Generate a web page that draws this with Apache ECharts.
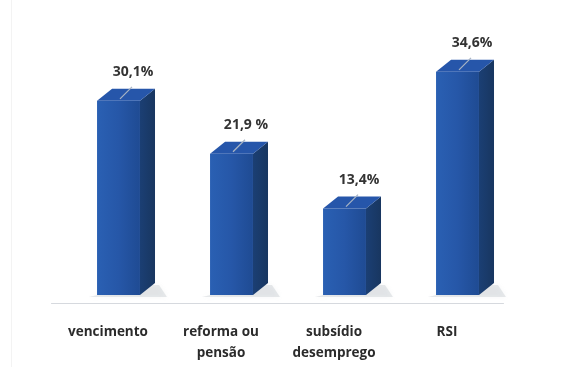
<!DOCTYPE html>
<html>
<head>
<meta charset="utf-8">
<style>
  html, body { margin: 0; padding: 0; background: #ffffff; }
  #chart { width: 573px; height: 367px; }
</style>
<script src="https://cdn.jsdelivr.net/npm/echarts@6/dist/echarts.min.js"></script>
</head>
<body>
<div id="chart"></div>
<script>
// Categories and their shares (%)
const categories = ['vencimento', 'reforma ou\npensão', 'subsídio\ndesemprego', 'RSI'];
const values = [30.1, 21.9, 13.4, 34.6];
const valueLabels = ['30,1%', '21,9 %', '13,4%', '34,6%'];

const chart = echarts.init(document.getElementById('chart'), null, { renderer: 'canvas' });

// Draws a 3D column: front face, top face, right side face, soft floor shadow,
// plus the value label with a short leader line onto the top face.
function renderColumn(params, api) {
  const i = api.value(0);
  const v = api.value(1);
  const top = api.coord([i, v]);
  const base = api.coord([i, 0]);
  const band = api.size([1, 0])[0];
  const floor = 8;               // floor depth: column bases sit behind the axis line
  const cx = top[0];
  const x0 = cx - band * 0.097;
  const w = band * 0.38;
  const dx = band * 0.133;
  const dy = 12;
  const yTop = top[1] - floor;
  const yBot = base[1] - floor;

  const frontFill = new echarts.graphic.LinearGradient(0, 0, 1, 0, [
    { offset: 0, color: '#2a60b3' },
    { offset: 0.5, color: '#2657a8' },
    { offset: 1, color: '#1f4b93' }
  ]);
  const sideFill = new echarts.graphic.LinearGradient(0, 0, 1, 0, [
    { offset: 0, color: '#1b3f74' },
    { offset: 1, color: '#183660' }
  ]);

  const children = [
    // floor shadow
    {
      type: 'polygon',
      shape: { points: [[x0 - 8, yBot + 2], [x0 + w + dx + 12, yBot + 2], [x0 + w + dx + 4, yBot - dy + 2], [x0 + w, yBot - dy + 2]] },
      style: { fill: 'rgba(150,158,168,0.22)', shadowBlur: 5, shadowColor: 'rgba(150,158,168,0.4)' },
      silent: true
    },
    // side face
    {
      type: 'polygon',
      shape: { points: [[x0 + w, yTop], [x0 + w + dx, yTop - dy], [x0 + w + dx, yBot - dy], [x0 + w, yBot]] },
      style: { fill: sideFill }
    },
    // front face
    {
      type: 'rect',
      shape: { x: x0, y: yTop, width: w, height: yBot - yTop },
      style: { fill: frontFill }
    },
    // top face
    {
      type: 'polygon',
      shape: { points: [[x0, yTop], [x0 + dx, yTop - dy], [x0 + w + dx, yTop - dy], [x0 + w, yTop]] },
      style: { fill: '#2656aa' }
    },
    // leader line
    {
      type: 'line',
      shape: { x1: cx + 24, y1: yTop - 14, x2: cx + 12, y2: yTop - 2 },
      style: { stroke: '#a8b4c4', lineWidth: 1.2 }
    },
    // value label
    {
      type: 'text',
      style: {
        x: cx + 25, y: yTop - 29,
        text: valueLabels[i],
        align: 'center', verticalAlign: 'middle',
        font: 'bold 14px "Open Sans", sans-serif',
        fill: '#333333'
      }
    }
  ];
  return { type: 'group', children };
}

chart.setOption({
  animation: false,
  backgroundColor: '#ffffff',
  grid: { left: 51.5, right: 69.5, top: 45, bottom: 64 },
  xAxis: {
    type: 'category',
    data: categories,
    axisLine: { show: true, lineStyle: { color: '#d6d9de', width: 1 } },
    axisTick: { show: false },
    axisLabel: {
      interval: 0,
      margin: 19,
      color: '#2b2b2b',
      fontFamily: 'Open Sans',
      fontWeight: 'bold',
      fontSize: 13.5,
      lineHeight: 21
    }
  },
  yAxis: {
    type: 'value',
    min: 0,
    max: 40,
    show: false,
    splitLine: { show: false }
  },
  graphic: [
    {
      type: 'line',
      shape: { x1: 11.5, y1: 0, x2: 11.5, y2: 367 },
      style: { stroke: '#f3f3f3', lineWidth: 1 },
      silent: true
    }
  ],
  series: [{
    type: 'custom',
    renderItem: renderColumn,
    data: values.map((v, i) => [i, v]),
    encode: { x: 0, y: 1 },
    clip: false
  }]
});
</script>
</body>
</html>
